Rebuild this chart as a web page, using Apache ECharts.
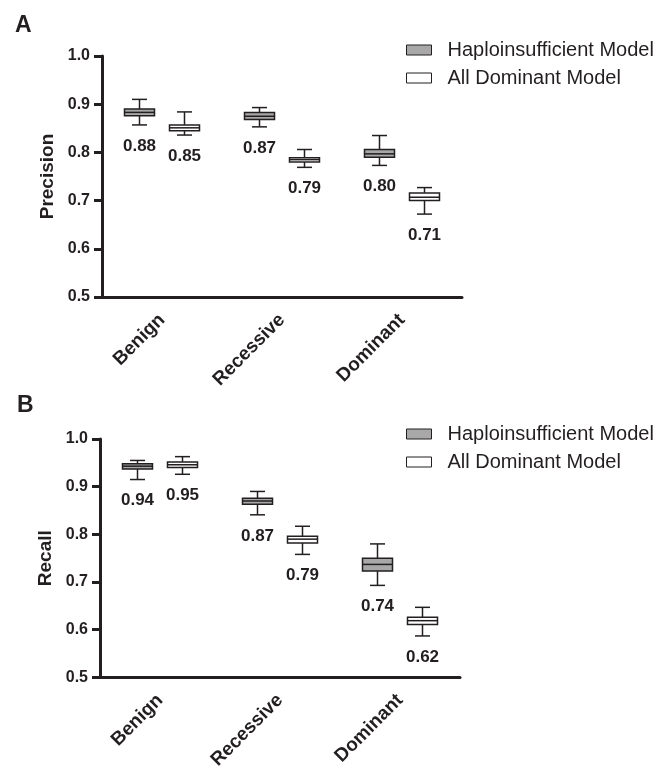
<!DOCTYPE html>
<html>
<head>
<meta charset="utf-8">
<title>Precision and Recall</title>
<script src="https://cdn.jsdelivr.net/npm/echarts@6.0.0/dist/echarts.min.js"></script>
<style>
  html, body { margin: 0; padding: 0; background: #fff; }
  #chart { width: 666px; height: 772px; }
</style>
</head>
<body>
<div id="chart"></div>
<script>
// categories on the x axis
const categories = ['Benign', 'Recessive', 'Dominant']
const seriesNames = ['Haploinsufficient Model', 'All Dominant Model']

// [low whisker, q1, median, q3, high whisker] per category
const precisionHaplo = [
  [0.857, 0.876, 0.883, 0.890, 0.910],
  [0.853, 0.868, 0.875, 0.883, 0.893],
  [0.773, 0.790, 0.797, 0.806, 0.835]
]
const precisionAllDom = [
  [0.836, 0.845, 0.851, 0.857, 0.884],
  [0.769, 0.780, 0.785, 0.789, 0.806],
  [0.672, 0.700, 0.707, 0.716, 0.727]
]
const recallHaplo = [
  [0.915, 0.937, 0.943, 0.948, 0.955],
  [0.841, 0.863, 0.870, 0.876, 0.890],
  [0.693, 0.723, 0.737, 0.750, 0.780]
]
const recallAllDom = [
  [0.926, 0.940, 0.946, 0.952, 0.963],
  [0.758, 0.782, 0.790, 0.796, 0.817],
  [0.587, 0.611, 0.619, 0.626, 0.647]
]

// numbers printed under each box
const precisionHaploLabels = ['0.88', '0.87', '0.80']
const precisionAllDomLabels = ['0.85', '0.79', '0.71']
const recallHaploLabels = ['0.94', '0.87', '0.74']
const recallAllDomLabels = ['0.95', '0.79', '0.62']

const INK = '#231f20'
const GREY = '#a8a8a8'
const FONT = '"Liberation Sans", Arial, sans-serif'

function boxRenderer (offset, fill, labels) {
  return function (params, api) {
    const cat = api.value(0)
    const x = api.coord([cat, api.value(3)])[0] + offset
    const yLow = api.coord([cat, api.value(1)])[1]
    const yQ1 = api.coord([cat, api.value(2)])[1]
    const yMed = api.coord([cat, api.value(3)])[1]
    const yQ3 = api.coord([cat, api.value(4)])[1]
    const yHigh = api.coord([cat, api.value(5)])[1]
    const half = 15
    const cap = 7.5
    const line = { stroke: INK, lineWidth: 1.5 }
    return {
      type: 'group',
      children: [
        { type: 'line', shape: { x1: x, y1: yHigh, x2: x, y2: yQ3 }, style: line },
        { type: 'line', shape: { x1: x, y1: yQ1, x2: x, y2: yLow }, style: line },
        { type: 'line', shape: { x1: x - cap, y1: yHigh, x2: x + cap, y2: yHigh }, style: line },
        { type: 'line', shape: { x1: x - cap, y1: yLow, x2: x + cap, y2: yLow }, style: line },
        { type: 'rect', shape: { x: x - half, y: yQ3, width: half * 2, height: yQ1 - yQ3 }, style: { fill: fill, stroke: INK, lineWidth: 1.5 } },
        { type: 'line', shape: { x1: x - half, y1: yMed, x2: x + half, y2: yMed }, style: line },
        {
          type: 'text',
          style: {
            text: labels[params.dataIndex],
            x: x,
            y: yLow + 21,
            align: 'center',
            verticalAlign: 'middle',
            fontSize: 17,
            fontWeight: 'bold',
            fontFamily: FONT,
            fill: INK
          }
        }
      ]
    }
  }
}

function toData (rows) {
  return rows.map((r, i) => [i].concat(r))
}

function boxSeries (name, idx, rows, offset, fill, labels) {
  return {
    name: name,
    type: 'custom',
    xAxisIndex: idx,
    yAxisIndex: idx,
    renderItem: boxRenderer(offset, fill, labels),
    encode: { x: 0, y: [1, 2, 3, 4, 5] },
    itemStyle: { color: fill, borderColor: INK },
    clip: false,
    data: toData(rows)
  }
}

function xAxis (idx) {
  return {
    type: 'category',
    gridIndex: idx,
    data: categories,
    axisLine: { lineStyle: { color: INK, width: 3 } },
    axisTick: { alignWithLabel: true, length: 9, lineStyle: { color: INK, width: 3 } },
    axisLabel: { rotate: 45, interval: 0, margin: 20, fontSize: 19, fontWeight: 'bold', fontFamily: FONT, color: INK },
    splitLine: { show: false }
  }
}

function yAxis (idx, name) {
  return {
    type: 'value',
    gridIndex: idx,
    min: 0.5,
    max: 1.0,
    interval: 0.1,
    name: name,
    nameLocation: 'middle',
    nameGap: 44,
    nameTextStyle: { fontSize: 19, fontWeight: 'bold', fontFamily: FONT, color: INK },
    axisLine: { show: true, lineStyle: { color: INK, width: 3 } },
    axisTick: { show: true, length: 8, lineStyle: { color: INK, width: 3 } },
    axisLabel: { margin: 12, fontSize: 16, fontWeight: 'bold', fontFamily: FONT, color: INK, formatter: v => v.toFixed(1) },
    splitLine: { show: false }
  }
}

function legend (top) {
  return {
    orient: 'vertical',
    left: 406,
    top: top,
    padding: 0,
    itemWidth: 25,
    itemHeight: 10,
    itemGap: 8,
    icon: 'rect',
    selectedMode: false,
    textStyle: { fontSize: 20, fontFamily: FONT, color: INK, padding: [0, 0, 0, 11] },
    data: [
      { name: seriesNames[0], itemStyle: { color: GREY, borderColor: INK, borderWidth: 1 } },
      { name: seriesNames[1], itemStyle: { color: '#fff', borderColor: INK, borderWidth: 1 } }
    ]
  }
}

const option = {
  animation: false,
  backgroundColor: '#fff',
  grid: [
    { left: 102, top: 56, width: 360, height: 241 },
    { left: 100, top: 439, width: 360, height: 239 }
  ],
  xAxis: [xAxis(0), xAxis(1)],
  yAxis: [yAxis(0, 'Precision'), yAxis(1, 'Recall')],
  legend: [legend(40), legend(424)],
  graphic: [
    { type: 'text', left: 15, top: 14, style: { text: 'A', fontSize: 23, fontWeight: 'bold', fontFamily: FONT, fill: INK } },
    { type: 'text', left: 17, top: 394, style: { text: 'B', fontSize: 23, fontWeight: 'bold', fontFamily: FONT, fill: INK } }
  ],
  series: [
    boxSeries(seriesNames[0], 0, precisionHaplo, -22.5, GREY, precisionHaploLabels),
    boxSeries(seriesNames[1], 0, precisionAllDom, 22.5, '#fff', precisionAllDomLabels),
    boxSeries(seriesNames[0], 1, recallHaplo, -22.5, GREY, recallHaploLabels),
    boxSeries(seriesNames[1], 1, recallAllDom, 22.5, '#fff', recallAllDomLabels)
  ]
}

const chart = echarts.init(document.getElementById('chart'), null, { renderer: 'canvas' })
chart.setOption(option)
window.addEventListener('resize', () => chart.resize())
</script>
</body>
</html>
